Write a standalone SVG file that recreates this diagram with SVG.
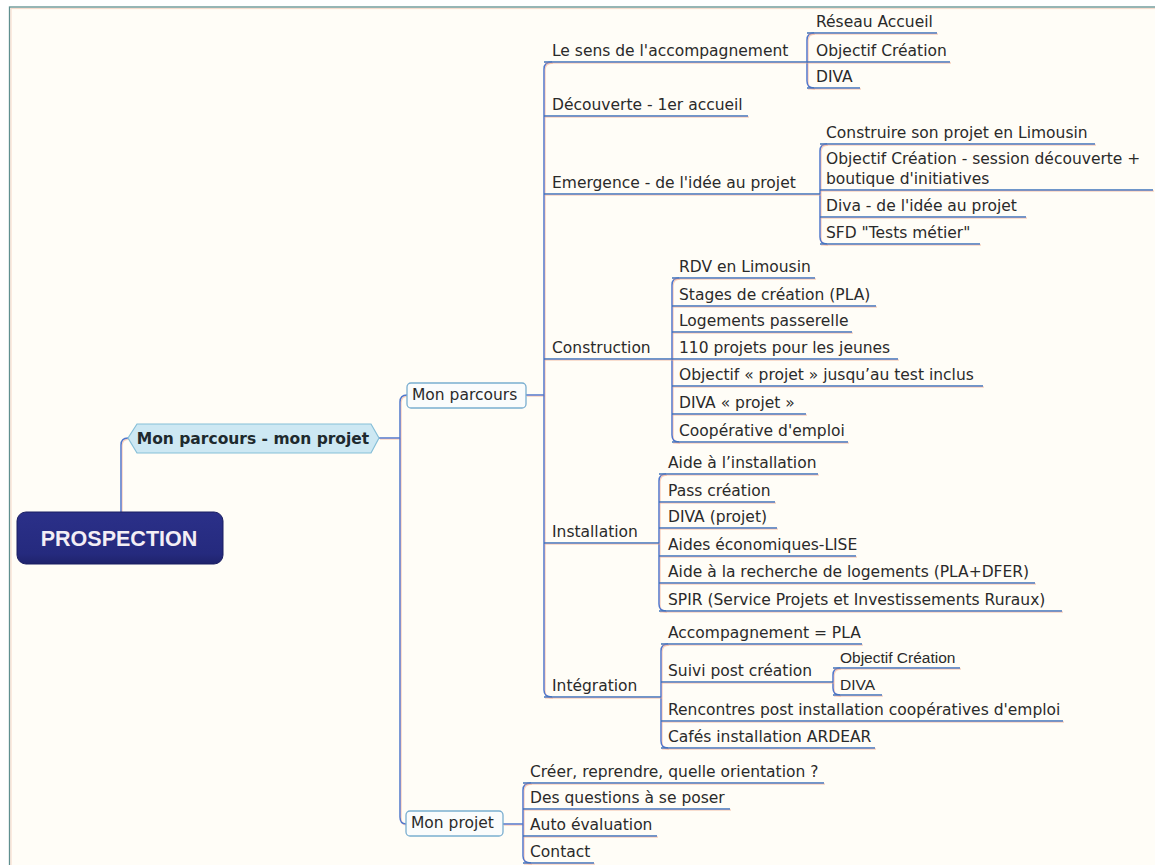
<svg xmlns="http://www.w3.org/2000/svg" width="1155" height="865" viewBox="0 0 1155 865">
<defs>
<style>
text{font-family:"DejaVu Sans",Verdana,sans-serif;font-size:15.5px;fill:#2a2a2a}
.b{font-weight:bold;font-size:15.5px;fill:#1e2a2e}
.s{font-family:"Liberation Sans",Arial,sans-serif;font-size:15.5px}
.u{stroke:#3d74bb;stroke-width:1.4;fill:none;filter:url(#sh)}
.c{stroke:#5078cc;stroke-width:1.5;fill:none;filter:url(#sh)}
</style>
<filter id="sh" filterUnits="userSpaceOnUse" x="0" y="0" width="1155" height="865">
<feOffset in="SourceAlpha" dx="0.8" dy="1.3" result="o"/>
<feFlood flood-color="#f0a888" flood-opacity="0.5"/>
<feComposite in2="o" operator="in" result="s"/>
<feMerge><feMergeNode in="s"/><feMergeNode in="SourceGraphic"/></feMerge>
</filter>
<linearGradient id="pg" x1="0" y1="0" x2="0" y2="1">
<stop offset="0" stop-color="#2b3089"/>
<stop offset="0.8" stop-color="#252a7e"/>
<stop offset="1" stop-color="#1f236c"/>
</linearGradient>
</defs>
<rect x="0" y="0" width="1155" height="865" fill="#ffffff"/>
<rect x="9.5" y="7" width="1160" height="870" fill="#fffdf7" stroke="#5f8f8f" stroke-width="1.3"/>
<path d="M11,870 V8.6 H1155" fill="none" stroke="#f6d8c8" stroke-width="1"/>

<g id="connectors">
<path class="c" d="M121,512 V445 Q121,438 128,438"/>
<path class="c" d="M379,438 H400"/>
<path class="c" d="M407,395 Q400,395 400,402 V817 Q400,824 406,824"/>
<path class="c" d="M526,395 H544"/>
<path class="c" d="M552,62 Q544,62 544,69 V690 Q544,697 552,697"/>
<path class="c" d="M503,824 H523"/>
<path class="c" d="M531,783 Q523,783 523,790 V856 Q523,863 531,863"/>
<path class="c" d="M814,33 Q807,33 807,40 V81 Q807,88 814,88"/>
<path class="c" d="M827,144 Q820,144 820,151 V237 Q820,244 827,244"/>
<path class="c" d="M679,278 Q672,278 672,285 V435 Q672,442 679,442"/>
<path class="c" d="M666,474 Q659,474 659,481 V604 Q659,611 666,611"/>
<path class="c" d="M668,644 Q661,644 661,651 V741 Q661,748 668,748"/>
<path class="c" d="M840,668 Q833,668 833,675 V688 Q833,695 840,695"/>
</g>

<g id="prospection">
<rect x="17" y="512" width="206" height="52" rx="9" fill="url(#pg)" stroke="#1b1f63" stroke-width="1"/>
<text x="119" y="546" text-anchor="middle" style="font-family:'Liberation Sans',Arial,sans-serif;font-weight:bold;font-size:21.5px;fill:#f3eef5">PROSPECTION</text>
</g>

<g id="mon-parcours-mon-projet">
<polygon points="128,438 137,424 371,424 379,438 371,453 137,453" fill="#cde8f3" stroke="#86bfd8" stroke-width="1.2"/>
<text class="b" x="253" y="444" text-anchor="middle">Mon parcours - mon projet</text>
</g>

<g id="mon-parcours">
<rect x="407" y="383" width="119" height="25" rx="4" fill="#fafcfc" stroke="#7aaed0" stroke-width="1.3"/>
<text x="412" y="400">Mon parcours</text>
</g>
<g id="mon-projet">
<rect x="406" y="811" width="97" height="25" rx="4" fill="#fafcfc" stroke="#7aaed0" stroke-width="1.3"/>
<text x="411" y="828">Mon projet</text>
</g>

<g id="le-sens"><text x="552" y="56">Le sens de l'accompagnement</text><path class="u" d="M544,62 H807"/></g>
<g id="reseau-accueil"><text x="816" y="27">Réseau Accueil</text><path class="u" d="M807,33 H937"/></g>
<g id="objectif-creation-1"><text x="816" y="56">Objectif Création</text><path class="u" d="M807,62 H950"/></g>
<g id="diva-1"><text x="816" y="82">DIVA</text><path class="u" d="M807,88 H860"/></g>

<g id="decouverte"><text x="552" y="110">Découverte - 1er accueil</text><path class="u" d="M544,116 H748"/></g>

<g id="emergence"><text x="552" y="188">Emergence - de l'idée au projet</text><path class="u" d="M544,194 H820"/></g>
<g id="construire"><text x="826" y="138">Construire son projet en Limousin</text><path class="u" d="M820,144 H1095"/></g>
<g id="objectif-session"><text x="826" y="164">Objectif Création - session découverte +</text><text x="826" y="184">boutique d'initiatives</text><path class="u" d="M820,190 H1153"/></g>
<g id="diva-idee"><text x="826" y="211">Diva - de l'idée au projet</text><path class="u" d="M820,217 H1026"/></g>
<g id="sfd"><text x="826" y="238">SFD "Tests métier"</text><path class="u" d="M820,244 H980"/></g>

<g id="construction"><text x="552" y="353">Construction</text><path class="u" d="M544,359 H672"/></g>
<g id="rdv"><text x="679" y="272">RDV en Limousin</text><path class="u" d="M672,278 H815"/></g>
<g id="stages"><text x="679" y="300">Stages de création (PLA)</text><path class="u" d="M672,306 H876"/></g>
<g id="logements"><text x="679" y="326">Logements passerelle</text><path class="u" d="M672,332 H852"/></g>
<g id="projets-jeunes"><text x="679" y="353">110 projets pour les jeunes</text><path class="u" d="M672,359 H898"/></g>
<g id="objectif-projet"><text x="679" y="380">Objectif « projet » jusqu’au test inclus</text><path class="u" d="M672,386 H983"/></g>
<g id="diva-projet"><text x="679" y="408">DIVA « projet »</text><path class="u" d="M672,414 H806"/></g>
<g id="cooperative"><text x="679" y="436">Coopérative d'emploi</text><path class="u" d="M672,442 H848"/></g>

<g id="installation"><text x="552" y="537">Installation</text><path class="u" d="M544,543 H659"/></g>
<g id="aide-installation"><text x="668" y="468">Aide à l’installation</text><path class="u" d="M659,474 H818"/></g>
<g id="pass-creation"><text x="668" y="496">Pass création</text><path class="u" d="M659,502 H775"/></g>
<g id="diva-p"><text x="668" y="522">DIVA (projet)</text><path class="u" d="M659,528 H777"/></g>
<g id="aides-eco"><text x="668" y="550">Aides économiques-LISE</text><path class="u" d="M659,556 H856"/></g>
<g id="aide-recherche"><text x="668" y="577">Aide à la recherche de logements (PLA+DFER)</text><path class="u" d="M659,583 H1035"/></g>
<g id="spir"><text x="668" y="605">SPIR (Service Projets et Investissements Ruraux)</text><path class="u" d="M659,611 H1062"/></g>

<g id="integration"><text x="552" y="691">Intégration</text><path class="u" d="M544,697 H661"/></g>
<g id="accompagnement"><text x="668" y="638">Accompagnement = PLA</text><path class="u" d="M661,644 H862"/></g>
<g id="suivi"><text x="668" y="676">Suivi post création</text><path class="u" d="M661,682 H833"/></g>
<g id="objectif-creation-2"><text class="s" x="840" y="663">Objectif Création</text><path class="u" d="M833,668 H960"/></g>
<g id="diva-2"><text class="s" x="840" y="690">DIVA</text><path class="u" d="M833,695 H882"/></g>
<g id="rencontres"><text x="668" y="715">Rencontres post installation coopératives d'emploi</text><path class="u" d="M661,721 H1063"/></g>
<g id="cafes"><text x="668" y="742">Cafés installation ARDEAR</text><path class="u" d="M661,748 H875"/></g>

<g id="creer"><text x="530" y="777">Créer, reprendre, quelle orientation ?</text><path class="u" d="M523,783 H824"/></g>
<g id="questions"><text x="530" y="803">Des questions à se poser</text><path class="u" d="M523,809 H730"/></g>
<g id="auto"><text x="530" y="830">Auto évaluation</text><path class="u" d="M523,836 H657"/></g>
<g id="contact"><text x="530" y="857">Contact</text><path class="u" d="M523,863 H594"/></g>
</svg>
